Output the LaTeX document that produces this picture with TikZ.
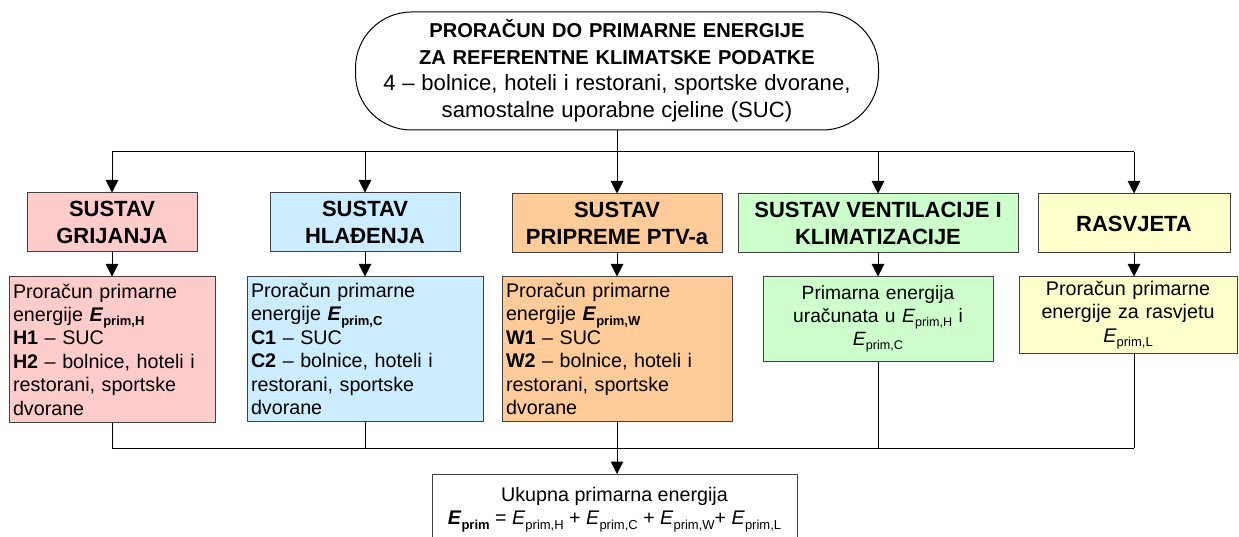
\documentclass[tikz,border=0pt]{standalone}
\usepackage{fontspec}
\setmainfont{Liberation Sans}
\usetikzlibrary{arrows.meta}
\definecolor{cpink}{HTML}{FFCCCC}
\definecolor{cblue}{HTML}{CCECFF}
\definecolor{corange}{HTML}{FFCC99}
\definecolor{cgreen}{HTML}{CCFFCC}
\definecolor{cyellow}{HTML}{FFFFCC}
\definecolor{cborder}{HTML}{404040}
\newcommand\Ebold[1]{\textbf{\textit{E}}\raisebox{-0.22em}{\fontsize{13}{13}\selectfont\textbf{#1}}}
\newcommand\Eital[1]{\textit{E}\raisebox{-0.22em}{\fontsize{13}{13}\selectfont #1}}
\newcommand\Eitalg[1]{\textit{E}\raisebox{-0.22em}{\fontsize{12.6}{12.6}\selectfont #1}}
\begin{document}
\begin{tikzpicture}[x=1pt,y=-1pt,
  hdr/.style={draw=cborder, line width=1pt, align=center, inner sep=2pt,
    font=\fontsize{22}{27}\selectfont\bfseries},
  body/.style={draw=cborder, line width=1pt, inner xsep=4pt, inner ysep=2pt,
    font=\fontsize{19.7}{23.4}\selectfont},
  line/.style={draw=black, line width=1pt},
  arr/.style={line, -{Triangle[length=12.5pt,width=12.5pt]}}
]
\useasboundingbox (0,0) rectangle (1239,537);

% title
\node[draw=black, line width=1pt, rounded corners=56pt, minimum width=523pt,
  minimum height=118pt, text width=515pt, align=center, inner sep=2pt,
  font=\fontsize{20.1}{26.5}\selectfont] (title) at (617,71)
  {{\bfseries PRORAČUN DO PRIMARNE ENERGIJE\\ZA REFERENTNE KLIMATSKE PODATKE\\}%
   {\fontsize{22.1}{26.5}\selectfont 4 – bolnice, hoteli i restorani, sportske dvorane,\\samostalne uporabne cjeline (SUC)}};

% header boxes
\node[hdr, fill=cpink,   minimum width=170pt, minimum height=59pt] (h1) at (112,222.5) {SUSTAV\\GRIJANJA};
\node[hdr, fill=cblue,   minimum width=190pt, minimum height=59pt] (h2) at (365,222.5) {SUSTAV\\HLAĐENJA};
\node[hdr, fill=corange, minimum width=210pt, minimum height=59pt] (h3) at (617,223.5) {SUSTAV\\PRIPREME PTV-a};
\node[hdr, fill=cgreen,  minimum width=280pt, minimum height=59pt] (h4) at (878,223.5) {SUSTAV VENTILACIJE I\\KLIMATIZACIJE};
\node[hdr, fill=cyellow, minimum width=192pt, minimum height=59pt] (h5) at (1134,223.5) {RASVJETA};

% lower boxes
\node[body, fill=cpink, text width=198pt, minimum height=145pt, align=left] (b1) at (112,349.5)
  {Proračun primarne\\energije \Ebold{prim,H}\\\textbf{H1} – SUC\\\textbf{H2} – bolnice, hoteli i\\restorani, sportske\\dvorane};
\node[body, fill=cblue, text width=228pt, minimum height=144pt, align=left] (b2) at (365,349)
  {Proračun primarne\\energije \Ebold{prim,C}\\\textbf{C1} – SUC\\\textbf{C2} – bolnice, hoteli i\\restorani, sportske\\dvorane};
\node[body, fill=corange, text width=222pt, minimum height=144pt, align=left] (b3) at (617,349)
  {Proračun primarne\\energije \Ebold{prim,W}\\\textbf{W1} – SUC\\\textbf{W2} – bolnice, hoteli i\\restorani, sportske\\dvorane};
\node[body, fill=cgreen, text width=222pt, minimum height=84pt, align=center,
  font=\fontsize{19.2}{23.2}\selectfont] (b4) at (878,319)
  {Primarna energija\\uračunata u \Eitalg{prim,H} i\\\Eitalg{prim,C}};
\node[body, fill=cyellow, text width=210pt, minimum height=76pt, align=center] (b5) at (1128,315)
  {Proračun primarne\\energije za rasvjetu\\\Eital{prim,L}};

% total box
\node[body, fill=white, anchor=north, minimum width=365pt, inner ysep=13pt, align=center,
  font=\fontsize{19.7}{23}\selectfont] (tot) at (614.5,474)
  {Ukupna primarna energija\\\Ebold{prim} = \Eital{prim,H} + \Eital{prim,C} + \Eital{prim,W}+ \Eital{prim,L}};

% connectors top
\coordinate (busT) at (0,152);
\coordinate (busB) at (0,448);
\draw[line] (title.south) -- (title.south |- busT);
\draw[line] (h1.north |- busT) -- (h5.north |- busT);
\foreach \n in {h1,h2,h3,h4,h5} \draw[arr] (\n.north |- busT) -- (\n.north);
\foreach \n in {1,2,3,4} \draw[arr] (h\n.south) -- (b\n.north);
\draw[arr] (h5.south) -- (h5.south |- b5.north);

% connectors bottom
\foreach \n in {1,2,3,4} \draw[line] (b\n.south) -- (b\n.south |- busB);
\draw[line] (h5.south |- b5.south) -- (h5.south |- busB);
\draw[line] (b1.south |- busB) -- (h5.south |- busB);
\draw[arr] (b3.south |- busB) -- (b3.south |- tot.north);
\end{tikzpicture}
\end{document}
